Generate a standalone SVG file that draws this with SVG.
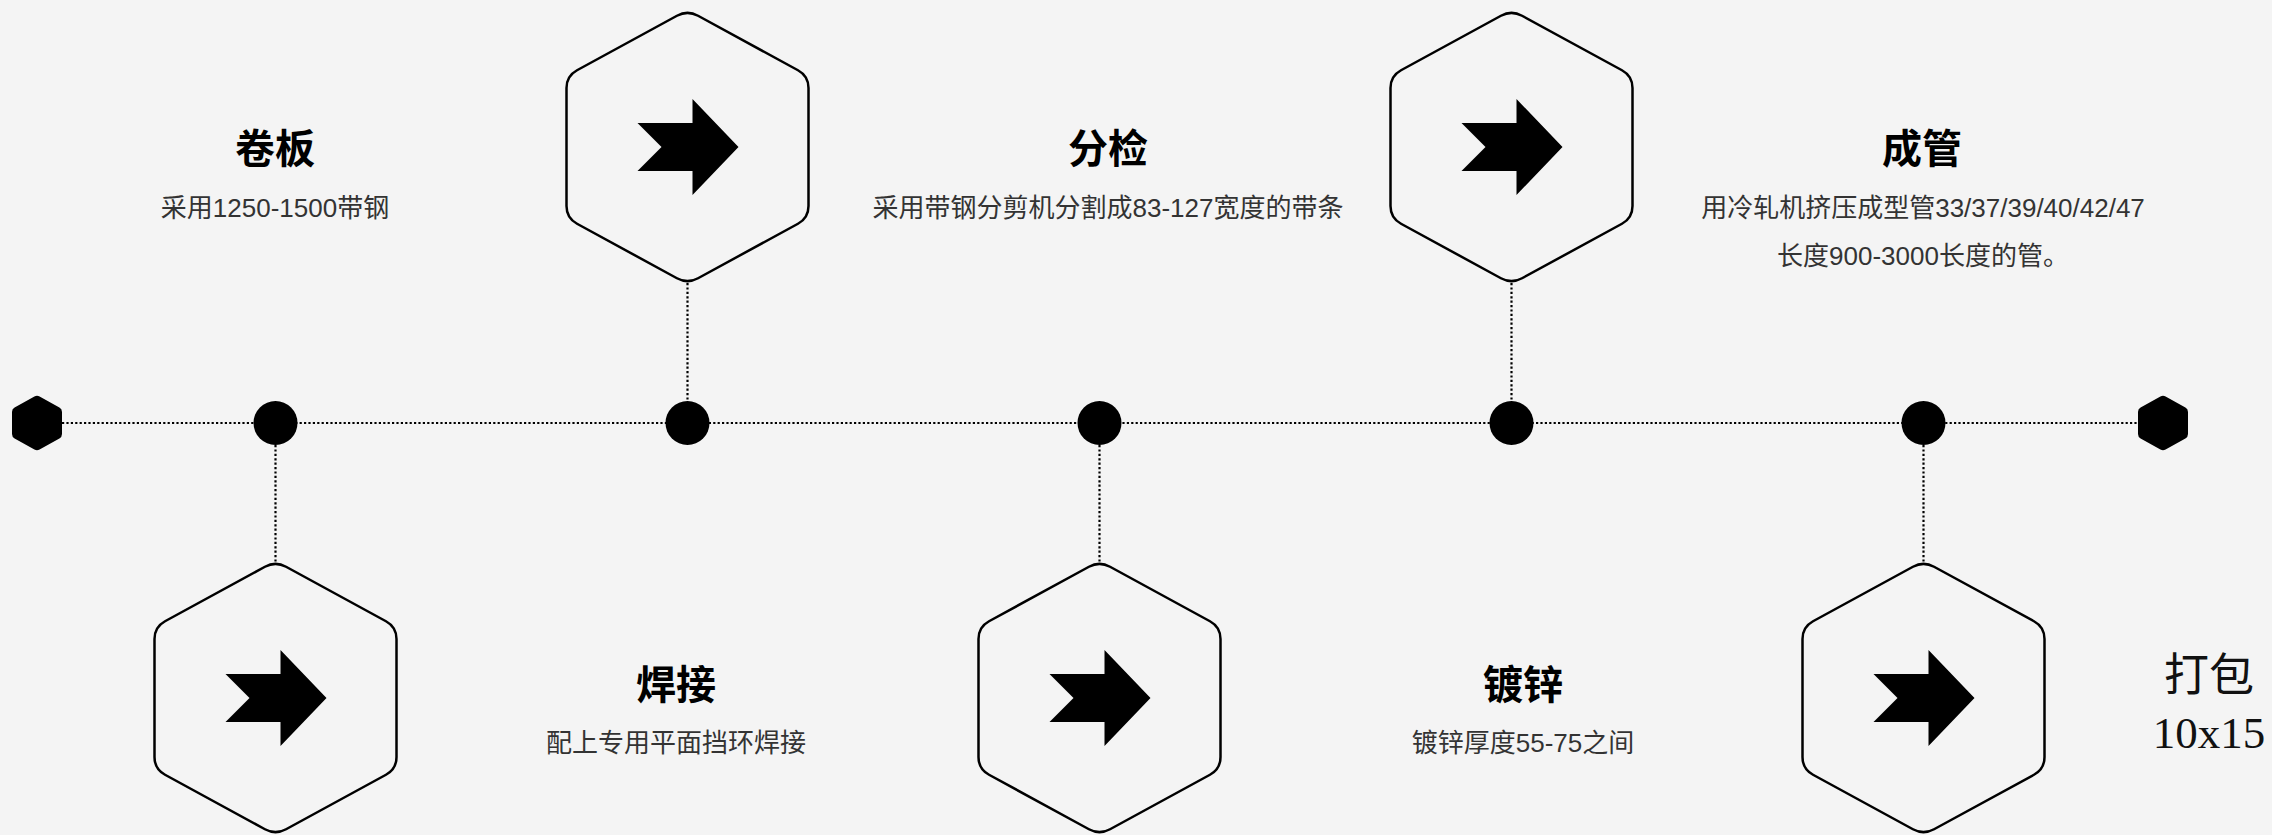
<svg xmlns="http://www.w3.org/2000/svg" xmlns:xlink="http://www.w3.org/1999/xlink" width="2272" height="835" viewBox="0 0 2272 835">
<style>
.hex{fill:#f4f4f4;stroke:#000;stroke-width:2.5}
.arrow{fill:#000}
.dot{fill:#000}
.conn{stroke:#000;stroke-width:2.2;stroke-dasharray:2.2 2.2;fill:none}
.title{font-family:"Liberation Sans","Noto Sans CJK SC",sans-serif;font-size:40px;font-weight:bold;fill:#000;text-anchor:middle}
.sub{font-family:"Liberation Sans","Noto Sans CJK SC",sans-serif;font-size:26px;fill:#333;text-anchor:middle}
.serif{font-family:"Liberation Serif","Noto Sans CJK SC",serif;font-size:45px;fill:#111;text-anchor:middle}
</style>
<defs>
<path id="bighex" class="hex" d="M10.54,-131.25 L110.46,-76.75 Q121,-71 121,-59 L121,59 Q121,71 110.46,76.75 L10.54,131.25 Q0,137 -10.54,131.25 L-110.46,76.75 Q-121,71 -121,59 L-121,-59 Q-121,-71 -110.46,-76.75 L-10.54,-131.25 Q0,-137 10.54,-131.25 Z"/>
<path id="arr" class="arrow" d="M-50,-24 L5,-24 L5,-48 L51,0 L5,48 L5,24 L-50,24 L-26,0 Z"/>
<path id="endhex" class="dot" d="M2.6,-26.6 L22.4,-15.4 Q25,-14 25,-11 L25,11 Q25,14 22.4,15.4 L2.6,26.6 Q0,28 -2.6,26.6 L-22.4,15.4 Q-25,14 -25,11 L-25,-11 Q-25,-14 -22.4,-15.4 L-2.6,-26.6 Q0,-28 2.6,-26.6 Z"/>
</defs>
<rect x="0" y="0" width="2272" height="835" fill="#f4f4f4"/>

<g id="connectors">
<line class="conn" x1="62" y1="423" x2="2138" y2="423"/>
<line class="conn" x1="687.5" y1="283" x2="687.5" y2="401"/>
<line class="conn" x1="1511.5" y1="283" x2="1511.5" y2="401"/>
<line class="conn" x1="275.5" y1="445" x2="275.5" y2="563"/>
<line class="conn" x1="1099.5" y1="445" x2="1099.5" y2="563"/>
<line class="conn" x1="1923.5" y1="445" x2="1923.5" y2="563"/>
</g>

<g id="start-cap"><use xlink:href="#endhex" transform="translate(37,423)"/></g>
<g id="end-cap"><use xlink:href="#endhex" transform="translate(2163,423)"/></g>

<g id="dot1"><circle class="dot" cx="275.5" cy="423" r="22"/></g>
<g id="dot2"><circle class="dot" cx="687.5" cy="423" r="22"/></g>
<g id="dot3"><circle class="dot" cx="1099.5" cy="423" r="22"/></g>
<g id="dot4"><circle class="dot" cx="1511.5" cy="423" r="22"/></g>
<g id="dot5"><circle class="dot" cx="1923.5" cy="423" r="22"/></g>

<g id="hex-top-1" transform="translate(687.5,147)"><use xlink:href="#bighex"/><use xlink:href="#arr"/></g>
<g id="hex-top-2" transform="translate(1511.5,147)"><use xlink:href="#bighex"/><use xlink:href="#arr"/></g>
<g id="hex-bot-1" transform="translate(275.5,698)"><use xlink:href="#bighex"/><use xlink:href="#arr"/></g>
<g id="hex-bot-2" transform="translate(1099.5,698)"><use xlink:href="#bighex"/><use xlink:href="#arr"/></g>
<g id="hex-bot-3" transform="translate(1923.5,698)"><use xlink:href="#bighex"/><use xlink:href="#arr"/></g>

<g id="step-juanban">
<text class="title" x="275" y="163">卷板</text>
<text class="sub" x="275" y="217">采用1250-1500带钢</text>
</g>
<g id="step-fenjian">
<text class="title" x="1108" y="163">分检</text>
<text class="sub" x="1108" y="217">采用带钢分剪机分割成83-127宽度的带条</text>
</g>
<g id="step-chengguan">
<text class="title" x="1922" y="163">成管</text>
<text class="sub" x="1923" y="217">用冷轧机挤压成型管33/37/39/40/42/47</text>
<text class="sub" x="1923" y="265">长度900-3000长度的管。</text>
</g>
<g id="step-hanjie">
<text class="title" x="676" y="699">焊接</text>
<text class="sub" x="676" y="752">配上专用平面挡环焊接</text>
</g>
<g id="step-duxin">
<text class="title" x="1523" y="699">镀锌</text>
<text class="sub" x="1523" y="752">镀锌厚度55-75之间</text>
</g>
<g id="step-dabao">
<text class="serif" x="2209" y="691">打包</text>
<text class="serif" x="2209" y="748">10x15</text>
</g>
</svg>
